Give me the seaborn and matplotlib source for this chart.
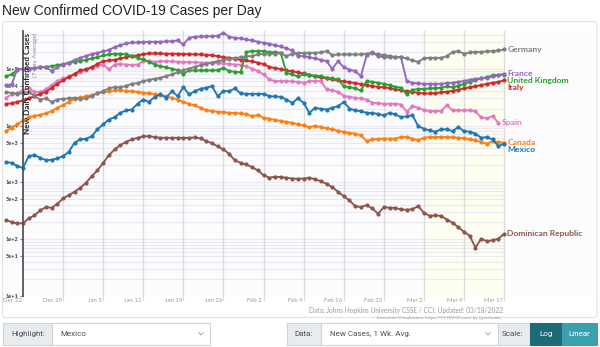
import numpy as np
import pandas as pd
import matplotlib
matplotlib.use("Agg")
import matplotlib.pyplot as plt
import matplotlib.transforms as mtransforms
from matplotlib.patches import FancyBboxPatch, Rectangle
import seaborn as sns

# ---------------- data (7-day average new cases) ----------------
# day offsets relative to Dec 22, 2021 (first point = Dec 19)
days = list(range(-3, 85))

germany = [38800, 37800, 36300, 37300, 39400, 33000, 28800, 30100, 26200, 28800,
           29600, 30100, 30900, 29600, 30100, 33000, 37300, 40500, 45100, 47600,
           47000, 50200, 54500, 56000, 60700, 64000, 66700, 69500, 74300, 79500,
           87300, 94800, 101000, 108000, 116000, 122000, 129000, 136000, 142000, 148000,
           154000, 160000, 165000, 169000, 179000, 184000, 184000, 184000, 189000, 167000,
           184000, 189000, 191000, 191000, 191000, 194000, 205000, 174000, 179000, 179000,
           179000, 179000, 179000, 184000, 191000, 179000, 174000, 169000, 160000, 160000,
           152000, 140000, 133000, 152000, 156000, 156000, 156000, 167000, 197000, 205000,
           184000, 194000, 197000, 199000, 202000, 205000, 210000, 219000]

france = [51500, 53000, 97300, 100000, 101000, 103000, 106000, 108000, 91000, 107000,
          119000, 129000, 142000, 156000, 169000, 181000, 191000, 202000, 216000, 241000,
          261000, 279000, 291000, 291000, 295000, 299000, 299000, 299000, 303000, 307000,
          315000, 268000, 351000, 366000, 371000, 371000, 376000, 381000, 431000, 366000,
          351000, 342000, 328000, 315000, 299000, 287000, 275000, 261000, 247000, 228000,
          210000, 169000, 167000, 160000, 152000, 144000, 136000, 100000, 136000, 107000,
          97000, 91000, 74000, 174000, 194000, 167000, 160000, 160000, 160000, 160000,
          60700, 56700, 55200, 54400, 54400, 54400, 54400, 56000, 56700, 59000,
          60700, 64000, 66700, 67600, 69500, 73300, 77000, 82000]

united_kingdom = [74300, 79500, 96000, 100000, 101000, 103000, 106000, 108000, 111000, 116000,
                  121000, 126000, 133000, 138000, 144000, 152000, 160000, 172000, 179000, 184000,
                  184000, 179000, 169000, 156000, 146000, 133000, 119000, 111000, 106000, 100000,
                  94800, 81700, 93500, 93500, 93500, 93500, 93500, 94800, 104000, 91000,
                  88500, 87300, 199000, 205000, 205000, 205000, 197000, 197000, 191000, 85000,
                  79500, 73300, 79500, 77300, 75300, 74300, 69500, 67600, 64900, 49500,
                  47500, 45100, 41600, 60700, 59000, 56700, 54400, 51500, 48200, 46300,
                  35300, 42700, 43900, 44500, 45100, 45700, 46300, 48900, 47600, 50200,
                  54400, 59000, 63100, 67600, 71300, 76300, 78000, 79000]

italy = [24200, 24500, 26200, 27700, 30100, 33000, 36300, 39400, 46300, 54400,
         62400, 71300, 81700, 93500, 98700, 107000, 122000, 136000, 140000, 144000,
         152000, 160000, 167000, 172000, 181000, 186000, 186000, 186000, 184000, 184000,
         184000, 181000, 181000, 179000, 179000, 176000, 172000, 167000, 160000, 156000,
         150000, 144000, 140000, 135000, 128000, 121000, 108000, 103000, 98700, 93500,
         89800, 86100, 82800, 78400, 73300, 70300, 67600, 64900, 62400, 59800,
         58200, 56000, 53700, 51500, 49500, 48200, 46900, 45700, 43300, 42100,
         40500, 39400, 37800, 36800, 36800, 37300, 38300, 39400, 41000, 42700,
         45100, 47000, 49500, 51500, 54400, 56700, 59000, 62400]

spain = [30900, 35300, 37800, 41600, 45100, 39400, 39400, 43300, 51500, 60700,
         67600, 73300, 79500, 87300, 96000, 103000, 113000, 119000, 97300, 119000,
         122000, 119000, 116000, 119000, 136000, 136000, 133000, 135000, 136000, 135000,
         133000, 131000, 131000, 131000, 129000, 128000, 128000, 126000, 124000, 122000,
         119000, 118000, 110000, 101000, 91000, 79500, 64900, 60700, 60700, 60700,
         59900, 59000, 56700, 60700, 60700, 60700, 43300, 41600, 39400, 33500,
         32100, 30900, 30100, 28400, 25500, 24500, 24200, 24200, 24200, 23500,
         17500, 22000, 20600, 19000, 18000, 18000, 18000, 22900, 18500, 18500,
         18500, 18500, 18000, 13900, 13400, 14700, 11200, np.nan]

canada = [8000, 9100, 10500, 12300, 14100, 14900, 15500, 16400, 18000, 20600,
          22900, 26200, 29600, 31300, 33000, 34400, 36800, 38300, 39900, 41600,
          42200, 41100, 39900, 39400, 37800, 36800, 35800, 34400, 33000, 30900,
          28800, 26200, 24200, 22600, 20600, 18500, 18000, 17500, 17300, 16800,
          16600, 16400, 15700, 14700, 15300, 13700, 13300, 12600, 12100, 11600,
          11200, 10500, 10100, 9400, 9900, 9400, 8900, 8600, 8100, 7800,
          7400, 7200, 6800, 5300, 5700, 5850, 5900, 5900, 5900, 6300,
          6300, 5900, 5500, 6100, 6300, 6300, 6300, 6300, 6200, 6100,
          6000, 5750, 5500, 5150, 4800, 5300, 5100, 5000]

mexico = [2270, 2210, 1940, 1810, 2900, 3020, 2710, 2460, 2500, 2640,
          2900, 3450, 5000, 5700, 5850, 6500, 8600, 10500, 12800, 14100,
          16800, 18500, 19200, 24200, 28800, 26200, 32100, 35300, 30900, 40500,
          33000, 47500, 35300, 40500, 44500, 46300, 49500, 33000, 40500, 40500,
          45000, 36800, 36200, 36200, 36200, 36200, 33000, 32600, 32100, 28800,
          25200, 30000, 25200, 16800, 20600, 19700, 19200, 20600, 22000, 25900,
          20000, 18500, 18000, 16800, 16600, 16100, 15100, 16800, 15700, 14100,
          14500, 15300, 9800, 8800, 8200, 7800, 8600, 8600, 8000, 9400,
          8000, 7800, 7200, 6100, 6300, 5700, 4350, 4800]

dominican_republic = [217, 200, 189, 192, 232, 262, 321, 367, 357, 420,
                      521, 597, 684, 804, 985, 1290, 1620, 2210, 3020, 3800,
                      4530, 5190, 5700, 6100, 6440, 6530, 6270, 6100, 6100, 6100,
                      6100, 6100, 6100, 6190, 5930, 5330, 4910, 4290, 3800, 3190,
                      2430, 2210, 2070, 1860, 1620, 1340, 1210, 1260, 1240, 1210,
                      1170, 1160, 1170, 1210, 1130, 1050, 944, 826, 684, 573,
                      481, 382, 367, 398, 348, 280, 367, 357, 357, 334,
                      330, 338, 382, 292, 258, 262, 258, 222, 195, 163,
                      135, 115, 71, 102, 92, 96, 102, 124]

countries = ["Dominican Republic", "Canada", "Spain", "Italy", "United Kingdom",
             "France", "Germany", "Mexico"]
series = {
    "Germany": germany, "France": france, "United Kingdom": united_kingdom,
    "Italy": italy, "Spain": spain, "Canada": canada, "Mexico": mexico,
    "Dominican Republic": dominican_republic,
}
palette = {
    "Germany": "#7f7f7f", "France": "#9467bd", "United Kingdom": "#2ca02c",
    "Italy": "#d62728", "Spain": "#e377c2", "Canada": "#ff7f0e",
    "Mexico": "#1f77b4", "Dominican Republic": "#8c564b",
}

week_days = [0, 7, 14, 21, 28, 35, 42, 49, 56, 63, 70, 77, 84]
week_labels = ["Dec 22", "Dec 29", "Jan 5", "Jan 12", "Jan 19", "Jan 26", "Feb 2",
               "Feb 9", "Feb 16", "Feb 23", "Mar 2", "Mar 9", "Mar 17"]
ytick_vals = [10, 50, 100, 500, 1000, 5000, 10000, 50000, 100000]
ytick_labels = ["1e+1", "5e+1", "1e+2", "5e+2", "1e+3", "5e+3", "1e+4", "5e+4", "1e+5"]

rows = []
for name in countries:
    for d, v in zip(days, series[name]):
        rows.append((d, name, v))
df = pd.DataFrame(rows, columns=["day", "country", "cases"]).dropna()

# ---------------- figure ----------------
sns.set_theme(style="white")
plt.rcParams['font.family'] = ['Lato', 'DejaVu Sans']

W, H = 600, 347
fig = plt.figure(figsize=(W / 100, H / 100), dpi=100)
fig.patch.set_facecolor("white")

px_per_day = 5.727
ax_left_px, ax_right_px = 3, 597
ax_top_px, ax_bot_px = 31, 296
x0_px = 23
ax = fig.add_axes([ax_left_px / W, 1 - ax_bot_px / H,
                   (ax_right_px - ax_left_px) / W, (ax_bot_px - ax_top_px) / H])
ax.set_facecolor("#fcfcfe")
ax.set_yscale("log")
ax.set_xlim((ax_left_px - x0_px) / px_per_day, (ax_right_px - x0_px) / px_per_day)
ytop = 10 ** (1 + (ax_bot_px - ax_top_px) / 56.8)
ax.set_ylim(10, ytop)

# shaded recent region
ax.axvspan(70, 84, color="#fefef0", zorder=0, lw=0)

# horizontal grid at every multiple
minor_vals = [k * 10 ** e for e in range(1, 6) for k in range(1, 10) if k * 10 ** e < ytop]
for v in minor_vals:
    ax.plot([0, 84], [v, v], color="#e9e9f4", lw=0.8, zorder=0.5)
# vertical weekly grid
for d in week_days[1:]:
    ax.plot([d, d], [10, ytop], color="#dadada", lw=0.9, zorder=0.6)
    ax.plot([d, d], [10 ** 0.93, 10], color="#dadada", lw=0.9, zorder=0.6, clip_on=False)

sns.lineplot(data=df, x="day", y="cases", hue="country", hue_order=countries,
             palette=palette, marker="o", markersize=3.0, markeredgewidth=0,
             linewidth=1.35, estimator=None, legend=False, ax=ax, zorder=3)

# axes styling
for s in ["top", "right", "bottom"]:
    ax.spines[s].set_visible(False)
ax.spines["left"].set_position(("data", 0))
ax.spines["left"].set_color("#555555")
ax.spines["left"].set_linewidth(1.3)
ax.spines["left"].set_zorder(4)
ax.set_yticks(ytick_vals)
ax.set_yticklabels(ytick_labels)
ax.yaxis.set_minor_locator(matplotlib.ticker.NullLocator())
ax.tick_params(axis="y", which="major", length=2.5, width=0.8, color="#777777",
               labelsize=4, labelcolor="#333333", pad=1, left=True)
for t in ax.get_yticklabels():
    t.set_fontweight("bold")
ax.set_xticks([])
ax.set_xlabel("")
ax.set_ylabel("")
trans = mtransforms.blended_transform_factory(ax.transData, ax.transAxes)
for d, lab in zip(week_days, week_labels):
    ax.text(d - 0.25, -0.008, lab, transform=trans, ha="right", va="top",
            fontsize=4.3, color="#9a9a9a")

# end labels with simple collision avoidance (in log space)
last = []
for name in countries:
    vals = series[name]
    idx = max(i for i, v in enumerate(vals) if not np.isnan(v))
    last.append((np.log10(vals[idx]), name, days[idx]))
last.sort(reverse=True)
prev = None
for lv, name, d in last:
    pos = lv if prev is None else min(lv, prev - 0.118)
    prev = pos
    ax.text(d + 0.55, 10 ** pos, name, color=palette[name], fontsize=6.1,
            fontweight="bold", va="center", ha="left", zorder=5)

# ---------------- overlay (page furniture) ----------------
ov = fig.add_axes([0, 0, 1, 1], facecolor="none")
ov.set_xlim(0, W)
ov.set_ylim(H, 0)
ov.axis("off")

ov.text(2, 15, "New Confirmed COVID-19 Cases per Day", fontsize=10.0,
        color="#222222", va="baseline", ha="left", family=["Liberation Sans", "DejaVu Sans"])
ov.add_patch(FancyBboxPatch((2.5, 21.5), 594.5, 296, boxstyle="round,pad=0,rounding_size=3",
                            fill=False, ec="#e2e2e2", lw=0.8))

ov.text(28, 33, "New Daily Confirmed Cases", rotation=90, ha="center", va="top",
        fontsize=5.9, fontweight="bold", color="#222222", zorder=10)
ov.text(35.5, 33, "(7-day Average)", rotation=90, ha="center", va="top",
        fontsize=4.6, color="#8a8a8a", zorder=10)

ov.text(503, 310, "Data: Johns Hopkins University CSSE / CCI; Updated: 03/18/2022",
        ha="right", va="center", fontsize=4.8, color="#9a9a9a")
ov.text(503, 317.5, "Interactive Visualization: https://91-DIVOC.com/ by @profwade_",
        ha="right", va="center", fontsize=3.2, color="#9a9a9a")

# controls row
ctrl_font = ["Roboto", "DejaVu Sans"]
def box(x0, x1, fc, ec="#ced4da"):
    ov.add_patch(Rectangle((x0, 323), x1 - x0, 22, fc=fc, ec=ec, lw=0.8))

def chevron(x):
    ov.plot([x - 2.5, x, x + 2.5], [332.5, 335, 332.5], color="#9a9a9a", lw=0.6)

box(3, 52, "#e9ecef")
ov.text(11, 334, "Highlight:", fontsize=5.8, color="#495057", va="center", family=ctrl_font)
box(52, 210, "white")
ov.text(60, 334, "Mexico", fontsize=5.8, color="#495057", va="center", family=ctrl_font)
chevron(201)

box(287, 321, "#e9ecef")
ov.text(294, 334, "Data:", fontsize=5.8, color="#495057", va="center", family=ctrl_font)
box(321, 498, "white")
ov.text(330, 334, "New Cases, 1 Wk. Avg.", fontsize=5.8, color="#495057", va="center",
        family=ctrl_font)
chevron(488)

box(498, 530, "#e9ecef")
ov.text(502, 334, "Scale:", fontsize=5.8, color="#495057", va="center", family=ctrl_font)
ov.add_patch(Rectangle((530, 323), 32, 22, fc="#1d6b75", ec="#1d6b75", lw=0.8))
ov.text(546, 334, "Log", fontsize=5.8, color="white", va="center", ha="center",
        family=ctrl_font)
ov.add_patch(Rectangle((562, 323), 35, 22, fc="#3aa0ac", ec="#3aa0ac", lw=0.8))
ov.text(579.5, 334, "Linear", fontsize=5.8, color="white", va="center", ha="center",
        family=ctrl_font)

fig.savefig("out.png", dpi=100, facecolor="white")
